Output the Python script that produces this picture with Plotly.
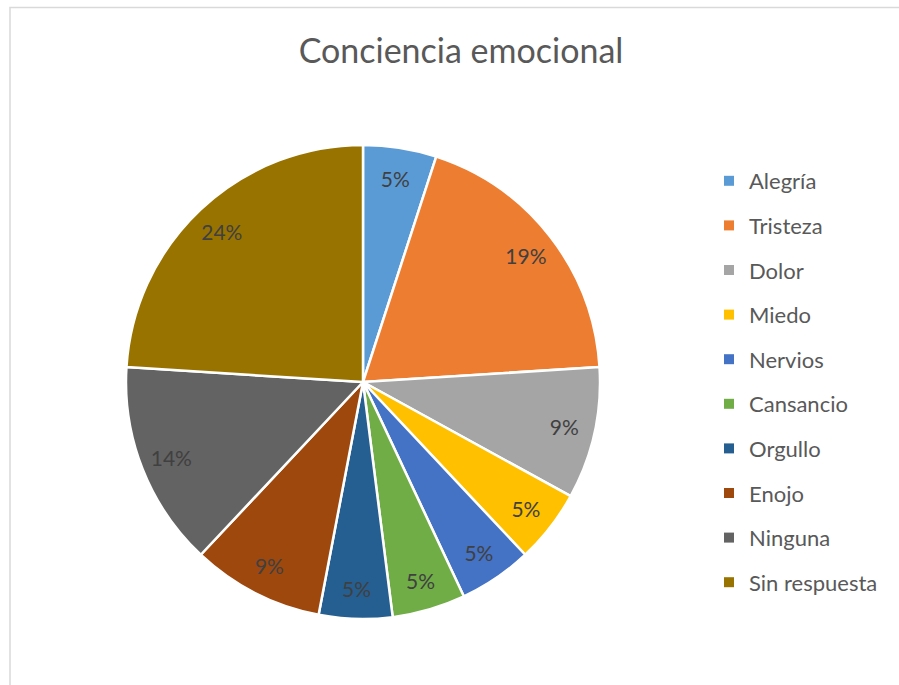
import plotly.graph_objects as go

labels = ["Alegría", "Tristeza", "Dolor", "Miedo", "Nervios", "Cansancio",
          "Orgullo", "Enojo", "Ninguna", "Sin respuesta"]
values = [5, 19, 9, 5, 5, 5, 5, 9, 14, 24]
colors = ["#5B9BD5", "#ED7D31", "#A5A5A5", "#FFC000", "#4472C4", "#70AD47",
          "#255E91", "#9E480E", "#636363", "#997300"]
title_text = "Conciencia emocional"

W, H = 899, 685
FONT = "Lato, 'Open Sans', sans-serif"
dom = dict(x=[126 / W, 600 / W], y=[66 / H, 540 / H])

fig = go.Figure()
# coloured slices
fig.add_trace(go.Pie(
    labels=labels, values=values, sort=False, direction="clockwise", rotation=0,
    marker=dict(colors=colors, line=dict(color="white", width=2.5)),
    textinfo="none", showlegend=False, hoverinfo="label+percent",
    domain=dom,
))
# transparent ring carrying the percentage labels near the rim
fig.add_trace(go.Pie(
    labels=labels, values=values, sort=False, direction="clockwise", rotation=0,
    hole=0.74,
    marker=dict(colors=["rgba(0,0,0,0)"] * len(labels), line=dict(width=0)),
    texttemplate="%{percent:.0%}", textposition="inside",
    insidetextorientation="horizontal",
    textfont=dict(family=FONT, size=21, color="#404040"),
    showlegend=False, hoverinfo="skip",
    domain=dom,
))

for lab, col in zip(labels, colors):
    fig.add_trace(go.Scatter(
        x=[None], y=[None], mode="markers", name=lab, legendgroup=lab,
        marker=dict(symbol="square", size=10, color=col),
        showlegend=True, hoverinfo="skip",
    ))

fig.update_layout(
    width=W, height=H,
    margin=dict(l=0, r=0, t=0, b=0),
    paper_bgcolor="white", plot_bgcolor="white",
    title=dict(text=title_text, x=461 / W, xanchor="center", y=1 - 51 / H, yanchor="middle",
               font=dict(family=FONT, size=34, color="#595959")),
    xaxis=dict(visible=False), yaxis=dict(visible=False),
    legend=dict(x=709 / W, xanchor="left", y=1 - 160 / H, yanchor="top",
                font=dict(family=FONT, size=22, color="#595959"),
                tracegroupgap=13, bgcolor="rgba(0,0,0,0)"),
    shapes=[dict(type="rect", xref="paper", yref="paper",
                 x0=10 / W, x1=1.05, y0=-0.05, y1=1 - 7.5 / H,
                 line=dict(color="#D9D9D9", width=1.5), fillcolor="rgba(0,0,0,0)",
                 layer="below")],
)

fig.write_html("out.html", config={"displayModeBar": False},
               post_script="document.body.style.margin='0';")
